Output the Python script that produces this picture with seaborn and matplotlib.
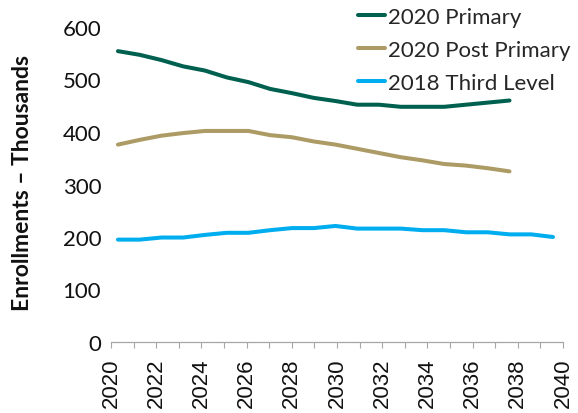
import numpy as np
import pandas as pd
import matplotlib
matplotlib.use("Agg")
import matplotlib.pyplot as plt
import seaborn as sns

# Values (thousands)
primary = [554, 547, 537, 525, 517, 504, 495, 482, 474, 465,
           459, 452, 452, 448, 448, 448, 452, 456, 460]
post_primary = [376, 385, 393, 398, 402, 402, 402, 394, 390, 382,
                376, 368, 360, 352, 346, 339, 336, 331, 325]
third_level = [195, 195, 199, 199, 204, 208, 208, 213, 217, 217,
               221, 216, 216, 216, 213, 213, 209, 209, 205, 205, 200]
series_names = ["2020 Primary", "2020 Post Primary", "2018 Third Level"]
tick_labels = [str(y) for y in range(2020, 2041, 2)]
start_year = 2020

colors = {"2020 Primary": "#00604F",
          "2020 Post Primary": "#AD9B66",
          "2018 Third Level": "#00AEEF"}

# Build a long table for seaborn
frames = []
for name, vals in zip(series_names, [primary, post_primary, third_level]):
    frames.append(pd.DataFrame({
        "Year": start_year + np.arange(len(vals)),
        "Enrollments": vals,
        "Series": name,
    }))
df = pd.concat(frames, ignore_index=True)

sns.set_style("white")
plt.rcParams["font.family"] = ["Lato", "DejaVu Sans"]

fig = plt.figure(figsize=(5.78, 4.14), dpi=100)
ax = fig.add_axes([111 / 578, 1 - 343 / 414, 452 / 578, 315 / 414])

sns.lineplot(data=df, x="Year", y="Enrollments", hue="Series",
             hue_order=series_names, palette=colors, linewidth=2.9,
             ax=ax, legend=False)

# the category axis in the original is slightly wider than the data span
xmin, xmax = 2019.68, 2040.46
ax.set_xlim(xmin, xmax)
ax.set_ylim(0, 600)
ax.set_yticks(range(0, 601, 100))
ax.tick_params(axis="y", length=0, pad=7, labelsize=16, labelcolor="#111111")

major = np.linspace(xmin, xmax, 11)
minor = np.linspace(xmin, xmax, 21)
ax.set_xticks(major)
ax.set_xticks(minor, minor=True)
ax.set_xticklabels(tick_labels, rotation=90, fontsize=16,
                   family="Liberation Sans", color="#111111")
ax.tick_params(axis="x", which="both", direction="out", length=4,
               width=0.8, color="#A6A6A6", pad=7, bottom=True)

for side in ["top", "right", "left"]:
    ax.spines[side].set_visible(False)
ax.spines["bottom"].set_color("#A6A6A6")
ax.spines["bottom"].set_linewidth(0.9)

ax.set_xlabel("")
ax.set_ylabel("Enrollments \u2013 Thousands", fontsize=16.5,
              fontweight="bold", color="#111111")
ax.yaxis.set_label_coords(-0.172, 0.508)

handles = [plt.Line2D([], [], color=colors[n], linewidth=2.9)
           for n in series_names]
fig.legend(handles, series_names, loc="upper left",
           bbox_to_anchor=(358 / 578, 1 - 8 / 414), frameon=False,
           fontsize=16, handlelength=1.2, handletextpad=0.15,
           labelspacing=0.58, borderpad=0, borderaxespad=0)

fig.savefig("out.png", dpi=100)
